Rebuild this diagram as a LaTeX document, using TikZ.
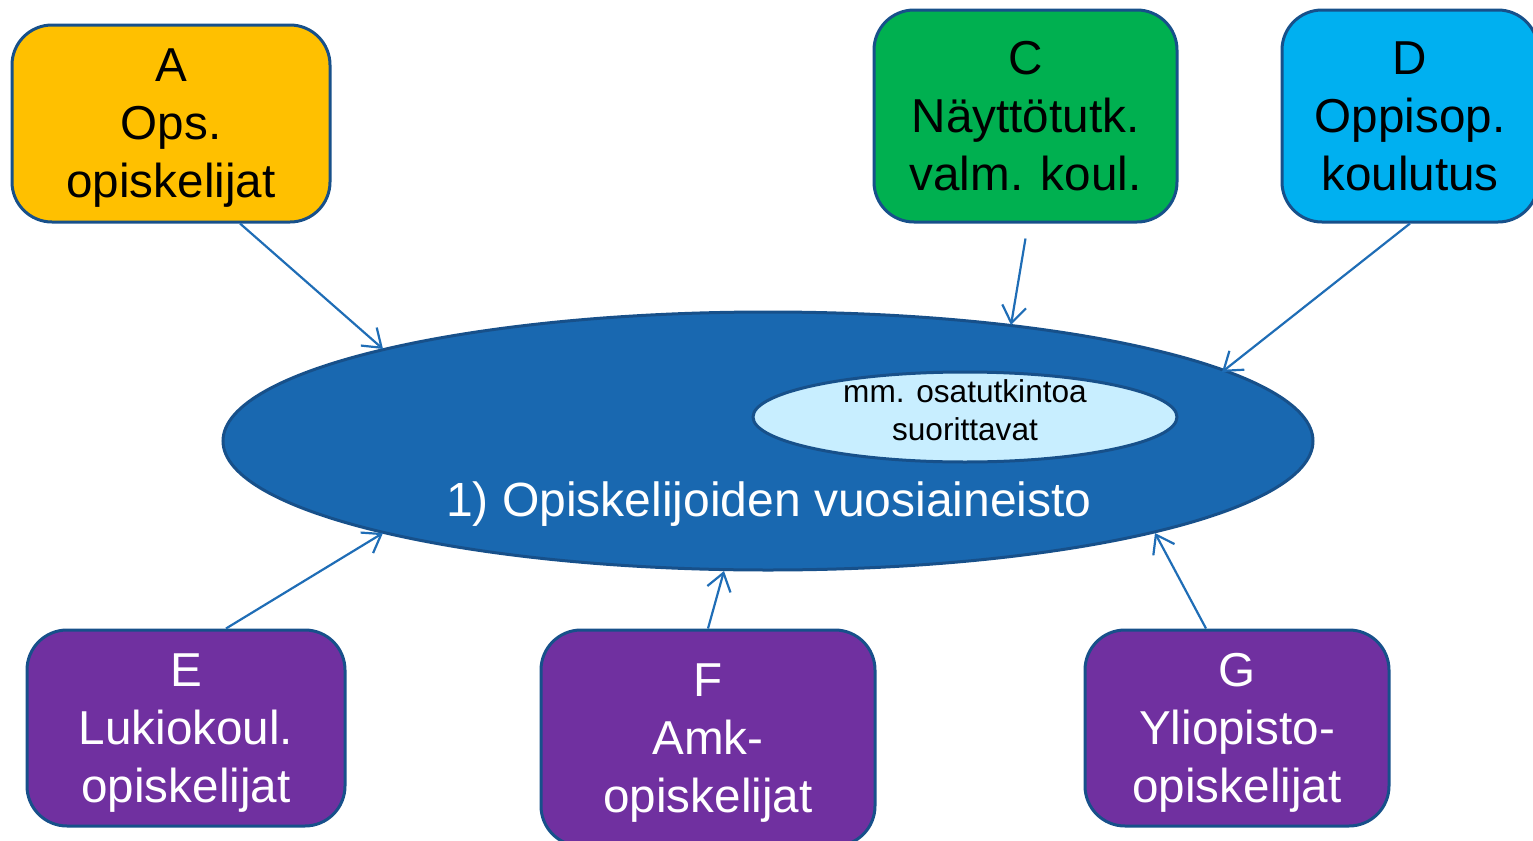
\documentclass[tikz,border=0pt]{standalone}
\usepackage{fontspec}
\setmainfont{Liberation Sans}
\usetikzlibrary{arrows.meta,shapes.geometric}
\definecolor{kbline}{HTML}{17508A}
\definecolor{kbarrow}{HTML}{1F6DB6}
\definecolor{kbmain}{HTML}{1968B0}
\definecolor{kbsub}{HTML}{C8EEFF}
\definecolor{kbyellow}{HTML}{FFC000}
\definecolor{kbgreen}{HTML}{00B050}
\definecolor{kbcyan}{HTML}{00B0F0}
\definecolor{kbpurple}{HTML}{7030A0}

\begin{document}
\begin{tikzpicture}[
  x=0.5pt, y=-0.5pt,
  group/.style  = {rectangle, rounded corners=20pt, draw=kbline, line width=1.5pt,
                   align=center, inner sep=0pt, text depth=0pt,
                   font=\fontsize{23.8}{29}\selectfont},
  pool/.style   = {ellipse, draw=kbline, line width=1.5pt, inner sep=0pt},
  feed/.style   = {-{Straight Barb[length=8.5pt,width=12pt,line width=1.1pt]},
                   draw=kbarrow, line width=1.1pt},
]
\useasboundingbox (0,0) rectangle (1533,841);

\node[group, fill=kbyellow, minimum width=159pt, minimum height=98.5pt]
  (a) at (171,123.5) {A\\Ops.\\opiskelijat};
\node[group, fill=kbgreen, minimum width=151.5pt, minimum height=106pt]
  (c) at (1025.5,116) {C\\Näyttötutk.\\valm. koul.};
\node[group, fill=kbcyan, minimum width=128pt, minimum height=106pt]
  (d) at (1410,116) {D\\Oppisop.\\koulutus};
\node[group, fill=kbpurple, text=white, minimum width=159pt, minimum height=98pt]
  (e) at (186,728) {E\\Lukiokoul.\\opiskelijat};
\node[group, fill=kbpurple, text=white, minimum width=167pt, minimum height=108pt]
  (f) at (708,738) {F\\Amk-\\opiskelijat};
\node[group, fill=kbpurple, text=white, minimum width=152pt, minimum height=98pt]
  (g) at (1237,728) {G\\Yliopisto-\\opiskelijat};

\node[pool, fill=kbmain, minimum width=545pt, minimum height=129pt] (main) at (768,441) {};
\node[pool, fill=kbsub, minimum width=212pt, minimum height=45pt] (sub) at (965,417) {};
\node[align=center, font=\fontsize{15.8}{19}\selectfont] (sublbl) at (965,410)
  {mm. osatutkintoa\\suorittavat};
\node[text=white, font=\fontsize{24}{29}\selectfont] (mainlbl) at (769,504)
  {1) Opiskelijoiden vuosiaineisto};

% arrow tips sit on the rim of the big ellipse
\draw[feed] ([xshift=34.5pt]a.south) -- ([shift={(-385,-92)}]main.center);
\draw[feed] ([yshift=-7.5pt]c.south) -- ([shift={(243,-116)}]main.center);
\draw[feed] (d.south) -- ([shift={(454,-69)}]main.center);
\draw[feed] ([xshift=20pt]e.north) -- ([shift={(-385,92)}]main.center);
\draw[feed] (f.north) -- ([shift={(-44,130)}]main.center);
\draw[feed] ([xshift=-15.5pt]g.north) -- ([shift={(387,92)}]main.center);
\end{tikzpicture}
\end{document}
